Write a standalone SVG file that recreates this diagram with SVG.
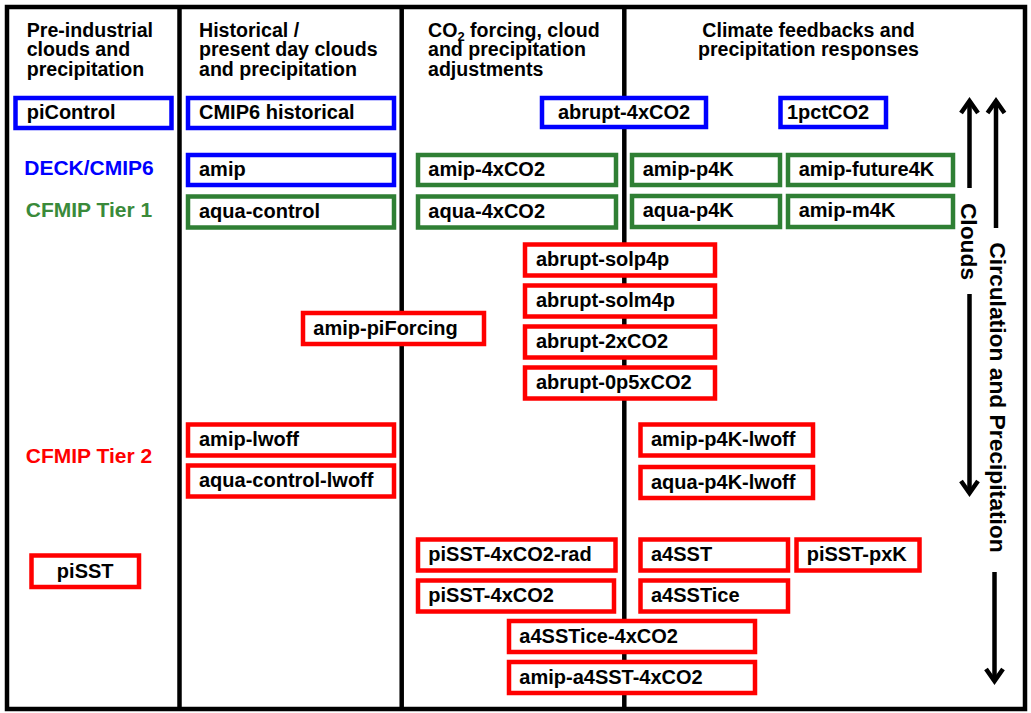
<svg xmlns="http://www.w3.org/2000/svg" width="1031" height="713" viewBox="0 0 1031 713">
<style>
text{font-family:"Liberation Sans",Arial,Helvetica,sans-serif;font-weight:bold;fill:#000}
.hd{font-size:19.6px}
.lb{font-size:20px}
.side{font-size:21px}
.vt{font-size:22.8px}
.frame{fill:none;stroke:#000;stroke-width:4.5}
.col{stroke:#000;stroke-width:4.5}
.bx{fill:#fff;stroke-width:4.5}
.blue .bx{stroke:#0000ff}
.green .bx{stroke:#2f7f34}
.red .bx{stroke:#ff0000}
.arr{stroke:#000;stroke-width:4.5;fill:none;marker-end:url(#ah)}
</style>
<defs>
<marker id="ah" markerUnits="userSpaceOnUse" viewBox="-16 -12 24 24" markerWidth="24" markerHeight="24" refX="0" refY="0" orient="auto">
<path d="M-12,-8.5 L0,0 L-12,8.5" fill="none" stroke="#000" stroke-width="4.5"/>
</marker>
</defs>
<rect width="1031" height="713" fill="#fff"/>
<g id="frame">
<rect class="frame" x="7" y="7" width="1018" height="702"/>
<line class="col" x1="179.5" y1="7" x2="179.5" y2="709"/>
<line class="col" x1="401.7" y1="7" x2="401.7" y2="709"/>
<line class="col" x1="624.3" y1="7" x2="624.3" y2="709"/>
</g>
<g id="headers">
<text class="hd" x="26.7" y="36.5">Pre-industrial</text>
<text class="hd" x="26.7" y="56.2">clouds and</text>
<text class="hd" x="26.7" y="75.9">precipitation</text>
<text class="hd" x="199" y="36.5">Historical /</text>
<text class="hd" x="199" y="56.2">present day clouds</text>
<text class="hd" x="199" y="75.9">and precipitation</text>
<text class="hd" x="428" y="36.5">CO<tspan font-size="13" dy="4">2</tspan><tspan dy="-4"> forcing, cloud</tspan></text>
<text class="hd" x="428" y="56.2">and precipitation</text>
<text class="hd" x="428" y="75.9">adjustments</text>
<text class="hd" x="808.5" y="36.5" text-anchor="middle">Climate feedbacks and</text>
<text class="hd" x="808.5" y="56.2" text-anchor="middle">precipitation responses</text>
</g>
<g id="legend">
<text class="side" x="89" y="175" text-anchor="middle" style="fill:#0000ff">DECK/CMIP6</text>
<text class="side" x="89" y="217.3" text-anchor="middle" style="fill:#3a8a3a">CFMIP Tier 1</text>
<text class="side" x="89" y="462.7" text-anchor="middle" style="fill:#ff0000">CFMIP Tier 2</text>
</g>
<g id="connectors">
<line class="arr" x1="969.5" y1="188" x2="969.5" y2="101"/>
<line class="arr" x1="969.5" y1="294" x2="969.5" y2="493"/>
<line class="arr" x1="996" y1="228" x2="996" y2="101"/>
<line class="arr" x1="994.5" y1="572" x2="994.5" y2="681"/>
<text class="vt" transform="translate(960.5,241.5) rotate(90)" text-anchor="middle">Clouds</text>
<text class="vt" transform="translate(989.5,397.5) rotate(90)" text-anchor="middle">Circulation and Precipitation</text>
</g>
<g class="blue">
<g id="piControl"><rect class="bx" x="15.5" y="98" width="156" height="30"/><text class="lb" x="26.7" y="119.3">piControl</text></g>
<g id="CMIP6-historical"><rect class="bx" x="188" y="98" width="206" height="30"/><text class="lb" x="199" y="119.3">CMIP6 historical</text></g>
<g id="abrupt-4xCO2"><rect class="bx" x="542" y="98" width="164" height="29"/><text class="lb" x="624" y="119" text-anchor="middle">abrupt-4xCO2</text></g>
<g id="1pctCO2"><rect class="bx" x="780.5" y="98" width="105.5" height="29"/><text class="lb" x="787" y="119">1pctCO2</text></g>
<g id="amip"><rect class="bx" x="188" y="155" width="206" height="30"/><text class="lb" x="199" y="175.5">amip</text></g>
</g>
<g class="green">
<g id="aqua-control"><rect class="bx" x="188" y="196.5" width="206" height="31"/><text class="lb" x="199" y="217.5">aqua-control</text></g>
<g id="amip-4xCO2"><rect class="bx" x="418" y="155" width="198" height="30"/><text class="lb" x="428.3" y="175.5">amip-4xCO2</text></g>
<g id="aqua-4xCO2"><rect class="bx" x="418" y="196.5" width="198" height="31"/><text class="lb" x="428.3" y="217.5">aqua-4xCO2</text></g>
<g id="amip-p4K"><rect class="bx" x="632" y="155" width="148" height="30"/><text class="lb" x="642.7" y="175.5">amip-p4K</text></g>
<g id="amip-future4K"><rect class="bx" x="788" y="155" width="165" height="30"/><text class="lb" x="798.7" y="175.5">amip-future4K</text></g>
<g id="aqua-p4K"><rect class="bx" x="632" y="196" width="148" height="31"/><text class="lb" x="642.7" y="217.3">aqua-p4K</text></g>
<g id="amip-m4K"><rect class="bx" x="788" y="196" width="165" height="31"/><text class="lb" x="798.7" y="217.3">amip-m4K</text></g>
</g>
<g class="red">
<g id="abrupt-solp4p"><rect class="bx" x="525" y="244.5" width="190" height="31"/><text class="lb" x="536" y="266">abrupt-solp4p</text></g>
<g id="abrupt-solm4p"><rect class="bx" x="525" y="285.5" width="190" height="31"/><text class="lb" x="536" y="307">abrupt-solm4p</text></g>
<g id="abrupt-2xCO2"><rect class="bx" x="525" y="326.5" width="190" height="31"/><text class="lb" x="536" y="348">abrupt-2xCO2</text></g>
<g id="abrupt-0p5xCO2"><rect class="bx" x="525" y="367.5" width="190" height="31"/><text class="lb" x="536" y="389">abrupt-0p5xCO2</text></g>
<g id="amip-piForcing"><rect class="bx" x="303" y="313" width="181" height="31"/><text class="lb" x="313.3" y="334.5">amip-piForcing</text></g>
<g id="amip-lwoff"><rect class="bx" x="188" y="424.5" width="206" height="31"/><text class="lb" x="199" y="446">amip-lwoff</text></g>
<g id="aqua-control-lwoff"><rect class="bx" x="188" y="465.5" width="206" height="31"/><text class="lb" x="199" y="487">aqua-control-lwoff</text></g>
<g id="piSST"><rect class="bx" x="31.5" y="555.5" width="107.5" height="31.5"/><text class="lb" x="85.2" y="577.5" text-anchor="middle">piSST</text></g>
<g id="amip-p4K-lwoff"><rect class="bx" x="640.5" y="424.5" width="172.5" height="31"/><text class="lb" x="651" y="446">amip-p4K-lwoff</text></g>
<g id="aqua-p4K-lwoff"><rect class="bx" x="640.5" y="467" width="172.5" height="31"/><text class="lb" x="651" y="488.5">aqua-p4K-lwoff</text></g>
<g id="piSST-4xCO2-rad"><rect class="bx" x="418" y="539.5" width="197.5" height="31"/><text class="lb" x="428.3" y="561">piSST-4xCO2-rad</text></g>
<g id="piSST-4xCO2"><rect class="bx" x="418" y="580.5" width="196" height="31"/><text class="lb" x="428.3" y="602">piSST-4xCO2</text></g>
<g id="a4SST"><rect class="bx" x="640.5" y="539.5" width="147.5" height="31"/><text class="lb" x="651" y="561">a4SST</text></g>
<g id="piSST-pxK"><rect class="bx" x="796.5" y="539.5" width="123" height="31"/><text class="lb" x="806.7" y="561">piSST-pxK</text></g>
<g id="a4SSTice"><rect class="bx" x="640.5" y="580.5" width="147.5" height="31"/><text class="lb" x="651" y="602">a4SSTice</text></g>
<g id="a4SSTice-4xCO2"><rect class="bx" x="509" y="621" width="246" height="31"/><text class="lb" x="519.3" y="642.5">a4SSTice-4xCO2</text></g>
<g id="amip-a4SST-4xCO2"><rect class="bx" x="509" y="662" width="246" height="31"/><text class="lb" x="519.3" y="683.5">amip-a4SST-4xCO2</text></g>
</g>
</svg>
